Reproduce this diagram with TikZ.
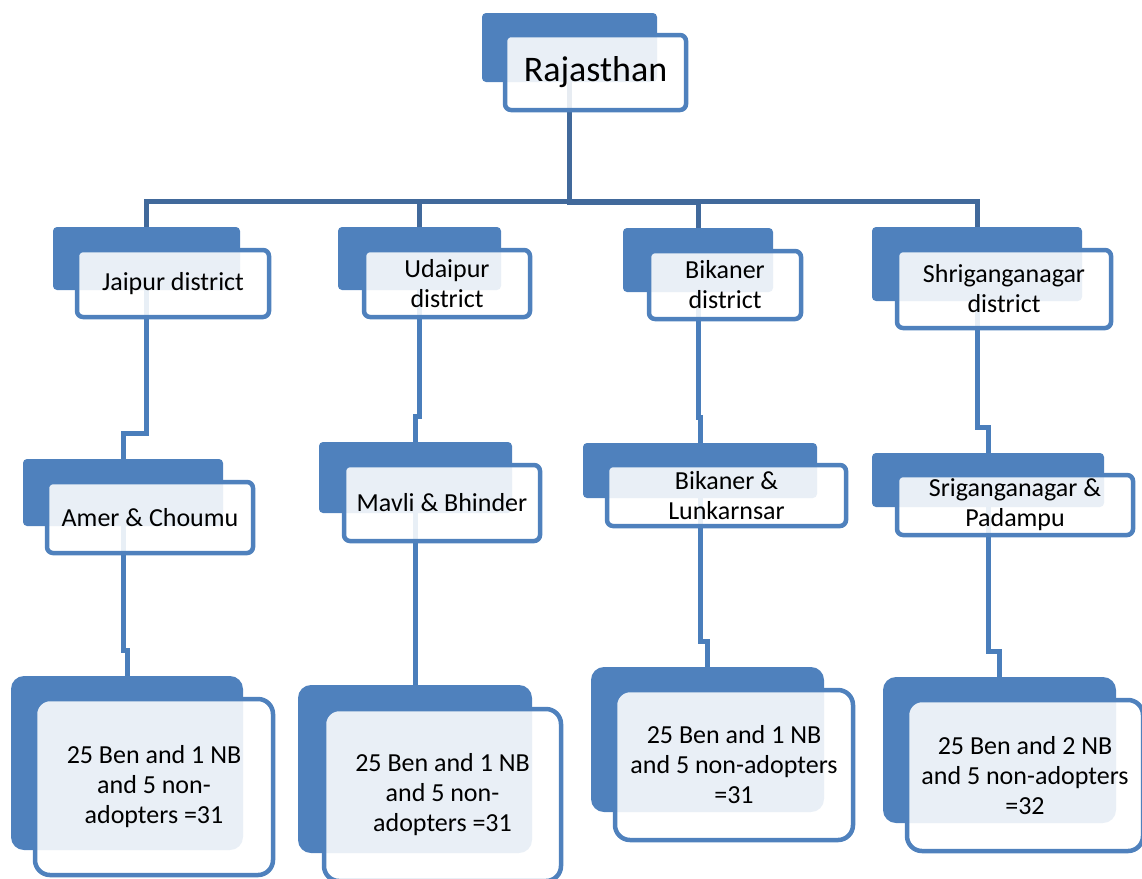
\documentclass[tikz,border=0pt]{standalone}
\usepackage{fontspec}
\setmainfont{Carlito}
\usepackage{xcolor}
\usetikzlibrary{positioning}
\definecolor{boxblue}{HTML}{4F81BD}
\definecolor{linkdark}{HTML}{41699B}
\definecolor{linkblue}{HTML}{4A7EBB}
\pgfdeclarelayer{bg}
\pgfsetlayers{bg,main}
\tikzset{
  sz/.style n args={2}{minimum width=#1pt, minimum height=#2pt},
  backbox/.style={fill=boxblue, rounded corners=4pt, inner sep=0pt},
  frontbox/.style={draw=boxblue, line width=4.5pt, fill=white, fill opacity=0.88,
    text opacity=1, draw opacity=1, rounded corners=6pt, inner sep=0pt,
    align=center, font=\fontsize{26}{30}\selectfont},
  bigback/.style={backbox, rounded corners=13pt},
  bigfront/.style={frontbox, rounded corners=15pt},
  toplink/.style={linkdark, line width=5pt},
  link/.style={linkblue, line width=5pt}
}

\begin{document}
\begin{tikzpicture}[x=1pt,y=-1pt]
    \useasboundingbox (0,0) rectangle (1142,878);

    % Level 1
    \node[backbox, sz={175}{69}] (rajB) at (569.5,47.5) {};
    \node[frontbox, sz={181}{75}, font=\fontsize{36}{40}\selectfont] (raj) at (595.5,72.5) {Rajasthan};

    % Districts
    \node[backbox, sz={187}{63}] (jaiB) at (146.5,258.5) {};
    \node[frontbox, sz={192}{67}] (jai) at (173,283.5) {Jaipur district};
    \node[backbox, sz={163}{63}] (udaB) at (419.5,258.5) {};
    \node[frontbox, sz={166}{67}] (uda) at (447,283.5) {Udaipur\\district};
    \node[backbox, sz={150}{64}] (bikB) at (698,260) {};
    \node[frontbox, sz={152}{68}] (bik) at (725,285) {Bikaner\\district};
    \node[backbox, sz={210}{74}] (shrB) at (977,264) {};
    \node[frontbox, sz={214}{78}] (shr) at (1004,289) {Shriganganagar\\district};

    % Blocks
    \node[backbox, sz={200}{67}] (ameB) at (123,492.5) {};
    \node[frontbox, sz={206}{71}] (ame) at (150,517.5) {Amer \& Choumu};
    \node[backbox, sz={193}{71}] (mavB) at (415.5,477.5) {};
    \node[frontbox, sz={196}{76}] (mav) at (442,503) {Mavli \& Bhinder};
    \node[backbox, sz={234}{55}] (lunB) at (700,470.5) {};
    \node[frontbox, sz={239}{61}] (lun) at (726.5,495.5) {Bikaner \&\\Lunkarnsar};
    \node[backbox, sz={232}{54}] (sriB) at (988,480) {};
    \node[frontbox, sz={236}{60}] (sri) at (1015,505) {Sriganganagar \&\\Padampu};

    % Samples
    \node[bigback, sz={232}{174}] (smpAB) at (127,763) {};
    \node[bigfront, sz={238}{176}] (smpA) at (154,787) {25 Ben and 1 NB\\and 5 non-\\adopters =31};
    \node[bigback, sz={234}{168}] (smpBB) at (415,769) {};
    \node[bigfront, sz={237}{172}] (smpB) at (442.5,795) {25 Ben and 1 NB\\and 5 non-\\adopters =31};
    \node[bigback, sz={233}{145}] (smpCB) at (707.5,739.5) {};
    \node[bigfront, sz={238}{150}] (smpC) at (734,765) {25 Ben and 1 NB\\and 5 non-adopters\\=31};
    \node[bigback, sz={233}{146}] (smpDB) at (999.5,750) {};
    \node[bigfront, sz={236}{151}] (smpD) at (1025,775.5) {25 Ben and 2 NB\\and 5 non-adopters\\=32};

    % Connectors
    \begin{pgfonlayer}{bg}
    \foreach \kid in {jaiB,udaB,bikB,shrB}
        \draw[toplink] (rajB.south) |- ([yshift=25pt]\kid.north) -| (\kid.north);
    \foreach \mum/\kid in {jaiB/ameB,udaB/mavB,bikB/lunB,shrB/sriB,
                           ameB/smpAB,mavB/smpBB,lunB/smpCB,sriB/smpDB}
        \draw[link] (\mum.south) |- ([yshift=25pt]\kid.north) -| (\kid.north);
    \end{pgfonlayer}
\end{tikzpicture}
\end{document}
